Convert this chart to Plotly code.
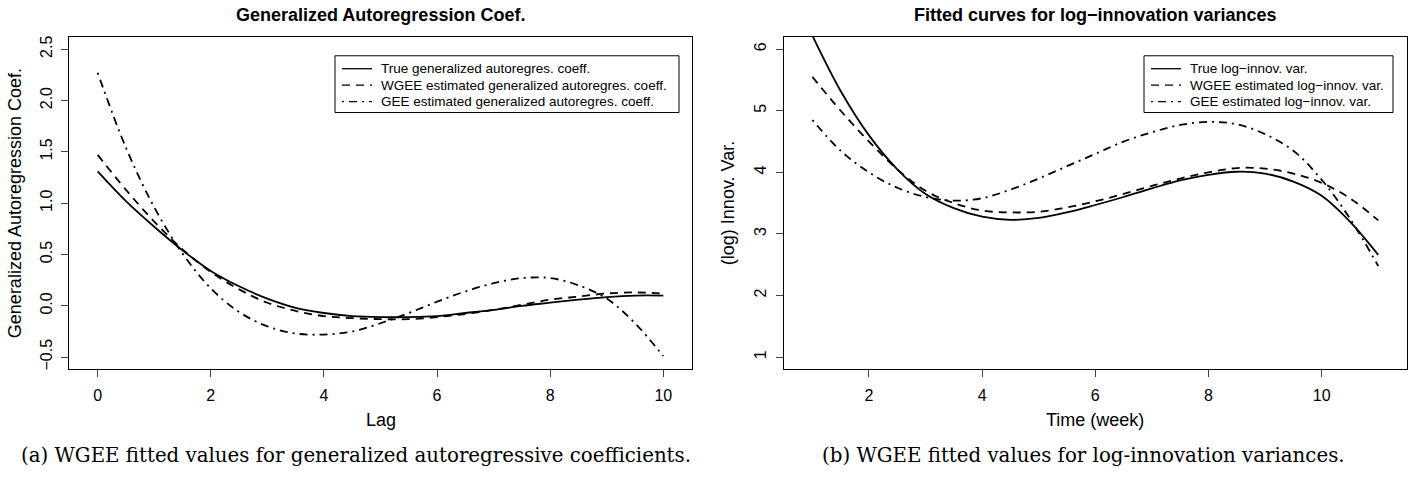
import plotly.graph_objects as go

# ---------------- data ----------------
lag = [0, 0.5, 1, 1.5, 2, 2.5, 3, 3.5, 4, 4.5, 5, 5.5, 6, 6.5, 7, 7.5, 8, 8.5, 9, 9.5, 10]
true_coef = [1.31, 1.02, 0.77, 0.54, 0.34, 0.19, 0.07, -0.02, -0.07, -0.10, -0.11, -0.11, -0.10,
             -0.07, -0.04, 0.00, 0.03, 0.06, 0.085, 0.10, 0.10]
wgee_coef = [1.47, 1.13, 0.82, 0.55, 0.33, 0.16, 0.03, -0.05, -0.10, -0.12, -0.13, -0.13, -0.11,
             -0.08, -0.04, 0.01, 0.06, 0.09, 0.12, 0.13, 0.12]
gee_coef = [2.27, 1.54, 0.96, 0.51, 0.17, -0.06, -0.20, -0.27, -0.28, -0.25, -0.17, -0.07, 0.04,
            0.14, 0.22, 0.27, 0.27, 0.20, 0.07, -0.17, -0.49]

week = [1, 1.5, 2, 2.5, 3, 3.5, 4, 4.5, 5, 5.5, 6, 6.5, 7, 7.5, 8, 8.5, 9, 9.5, 10, 10.5, 11]
true_var = [6.22, 5.32, 4.60, 4.05, 3.65, 3.42, 3.28, 3.23, 3.26, 3.35, 3.47, 3.60, 3.74, 3.87,
            3.96, 4.01, 3.98, 3.85, 3.62, 3.20, 2.66]
wgee_var = [5.55, 5.00, 4.50, 4.05, 3.70, 3.50, 3.38, 3.35, 3.36, 3.43, 3.53, 3.65, 3.78, 3.90,
            4.00, 4.07, 4.06, 3.98, 3.83, 3.58, 3.22]
gee_var = [4.85, 4.35, 4.00, 3.75, 3.60, 3.54, 3.58, 3.72, 3.90, 4.10, 4.30, 4.50, 4.65, 4.77,
           4.82, 4.78, 4.62, 4.35, 3.88, 3.25, 2.48]

left_names = ["True generalized autoregres. coeff.",
              "WGEE estimated generalized autoregres. coeff.",
              "GEE estimated generalized autoregres. coeff."]
right_names = ["True log\u2212innov. var.",
               "WGEE estimated log\u2212innov. var.",
               "GEE estimated log\u2212innov. var."]

left_xticks = [0, 2, 4, 6, 8, 10]
left_yticks = [-0.5, 0.0, 0.5, 1.0, 1.5, 2.0, 2.5]
right_xticks = [2, 4, 6, 8, 10]
right_yticks = [1, 2, 3, 4, 5, 6]

# ---------------- styling ----------------
W, H = 1424, 479
SANS = "Liberation Sans, Arial, Helvetica, sans-serif"
SERIF = "DejaVu Serif, Liberation Serif, serif"
dashes = ["solid", "8px,6px", "2px,5px,8px,5px"]
LW = 1.8

fig = go.Figure()

for ys, name, d in zip([true_coef, wgee_coef, gee_coef], left_names, dashes):
    fig.add_trace(go.Scatter(x=lag, y=ys, mode="lines", name=name, showlegend=False,
                             line=dict(color="black", width=LW, dash=d, shape="spline", smoothing=1),
                             xaxis="x", yaxis="y"))

for ys, name, d in zip([true_var, wgee_var, gee_var], right_names, dashes):
    fig.add_trace(go.Scatter(x=week, y=ys, mode="lines", name=name, showlegend=False,
                             line=dict(color="black", width=LW, dash=d, shape="spline", smoothing=1),
                             xaxis="x2", yaxis="y2"))


def px_x(p):
    return p / W


def px_y(p):
    return (H - p) / H


ydom = [px_y(370), px_y(36)]

axis_common = dict(showline=True, mirror=True, linecolor="black", linewidth=1,
                   ticks="outside", ticklen=7, tickwidth=1, tickcolor="#444",
                   showgrid=False, zeroline=False,
                   tickfont=dict(family=SANS, size=16, color="black"))

fig.update_layout(
    width=W, height=H,
    margin=dict(l=0, r=0, t=0, b=0),
    paper_bgcolor="white", plot_bgcolor="white",
    showlegend=False,
    xaxis=dict(domain=[px_x(69), px_x(692)], range=[-0.507, 10.507],
               tickvals=left_xticks, ticklabelstandoff=4, anchor="y", **axis_common),
    yaxis=dict(domain=ydom, range=[-0.62, 2.62], tickvals=left_yticks, tickformat=".1f",
               tickangle=-90, ticklabelstandoff=3, anchor="x", **axis_common),
    xaxis2=dict(domain=[px_x(783.7), px_x(1406.7)], range=[0.493, 11.503],
                tickvals=right_xticks, ticklabelstandoff=4, anchor="y2", **axis_common),
    yaxis2=dict(domain=ydom, range=[0.8, 6.2], tickvals=right_yticks,
                tickangle=-90, ticklabelstandoff=3, anchor="x2", **axis_common),
)


def ann(text, x, y, size, family=SANS, angle=0, bold=False, xanchor="center"):
    if bold:
        text = "<b>" + text + "</b>"
    fig.add_annotation(text=text, x=px_x(x), y=px_y(y), xref="paper", yref="paper",
                       showarrow=False, xanchor=xanchor, yanchor="middle", textangle=angle,
                       font=dict(family=family, size=size, color="black"))


# titles
ann("Generalized Autoregression Coef.", 380.5, 14, 18, bold=True)
ann("Fitted curves for log\u2212innovation variances", 1095.2, 14, 18, bold=True)
# axis titles
ann("Lag", 380.5, 421, 18)
ann("Time (week)", 1095.2, 421, 18)
ann("Generalized Autoregression Coef.", 15, 203, 18, angle=-90)
ann("(log) Innov. Var.", 728, 203, 18, angle=-90)
# captions
ann("(a) WGEE fitted values for generalized autoregressive coefficients.", 356, 456, 19.8, family=SERIF)
ann("(b) WGEE fitted values for log-innovation variances.", 1083, 456, 19.8, family=SERIF)


# legends (box + key lines + labels), R style
def legend_box(x0, x1, y0, y1, names):
    fig.add_shape(type="rect", xref="paper", yref="paper",
                  x0=px_x(x0), x1=px_x(x1), y0=px_y(y1), y1=px_y(y0),
                  line=dict(color="black", width=1), fillcolor="white", layer="above")
    rows = [y0 + 13, y0 + 29.5, y0 + 46]
    for name, d, ry in zip(names, dashes, rows):
        fig.add_shape(type="line", xref="paper", yref="paper",
                      x0=px_x(x0 + 7), x1=px_x(x0 + 37), y0=px_y(ry), y1=px_y(ry),
                      line=dict(color="black", width=1.3, dash=d), layer="above")
        ann(name, x0 + 44, ry, 13.5, xanchor="left")


legend_box(335, 679, 55, 112, left_names)
legend_box(1144, 1393, 55, 112, right_names)

fig.write_html("out.html", config={"displayModeBar": False},
               post_script="document.body.style.margin='0';")
